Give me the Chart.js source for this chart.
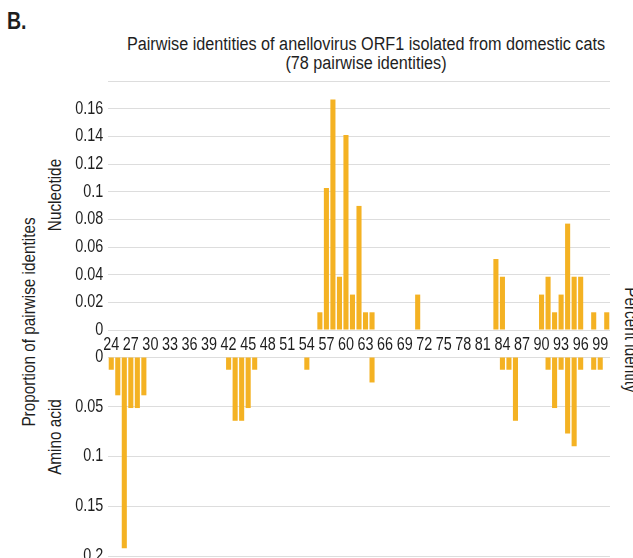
<!DOCTYPE html>
<html>
<head>
<meta charset="utf-8">
<script src="https://cdn.jsdelivr.net/npm/chart.js@4.4.1/dist/chart.umd.min.js"></script>
<style>
  html, body { margin: 0; padding: 0; background: #fff; }
  body { width: 633px; height: 558px; overflow: hidden; position: relative;
         font-family: 'Liberation Sans', Arial, sans-serif; color: #1e1e1e; }
  .txt { position: absolute; white-space: nowrap; font-size: 18px; line-height: 18px; }
  .rot { transform: translate(-50%, -50%) rotate(-90deg) scaleX(0.85); }
  .rotR { transform: translate(-50%, -50%) rotate(90deg) scaleX(0.85); }
  #panelTop { position: absolute; left: 0; top: 0; }
  #panelBottom { position: absolute; left: 0; top: 340px; }
</style>
</head>
<body>
<div class="txt" style="left:7px; top:10px; font-size:23px; line-height:23px; font-weight:bold; transform:scaleX(0.85); transform-origin:left;">B.</div>
<div class="txt" style="left:366px; top:35px; line-height:19px; text-align:center; transform:translateX(-50%) scaleX(0.9);">Pairwise identities of anellovirus ORF1 isolated from domestic cats<br>(78 pairwise identities)</div>
<div class="txt rot" style="left:29px; top:322px;">Proportion of pairwise identites</div>
<div class="txt rot" style="left:55px; top:195px;">Nucleotide</div>
<div class="txt rot" style="left:55px; top:437px;">Amino acid</div>
<div class="txt rotR" style="left:631px; top:340px;">Percent identity</div>

<canvas id="panelTop" width="792" height="360"></canvas>
<canvas id="panelBottom" width="792" height="240"></canvas>

<script>
// percent identity categories (24 .. 100)
const identity = [
  24, 25, 26, 27, 28, 29, 30, 31, 32, 33,
  34, 35, 36, 37, 38, 39, 40, 41, 42, 43,
  44, 45, 46, 47, 48, 49, 50, 51, 52, 53,
  54, 55, 56, 57, 58, 59, 60, 61, 62, 63,
  64, 65, 66, 67, 68, 69, 70, 71, 72, 73,
  74, 75, 76, 77, 78, 79, 80, 81, 82, 83,
  84, 85, 86, 87, 88, 89, 90, 91, 92, 93,
  94, 95, 96, 97, 98, 99, 100
];

// proportion of the 78 pairwise identities, nucleotide
const nucleotide = [
  0, 0, 0, 0, 0, 0, 0, 0, 0, 0,
  0, 0, 0, 0, 0, 0, 0, 0, 0, 0,
  0, 0, 0, 0, 0, 0, 0, 0, 0, 0,
  0, 0, 0.0128, 0.1026, 0.1667, 0.0385, 0.141, 0.0256, 0.0897, 0.0128,
  0.0128, 0, 0, 0, 0, 0, 0, 0.0256, 0, 0,
  0, 0, 0, 0, 0, 0, 0, 0, 0, 0.0513,
  0.0385, 0, 0, 0, 0, 0, 0.0256, 0.0385, 0.0128, 0.0256,
  0.0769, 0.0385, 0.0385, 0, 0.0128, 0, 0.0128
];

// proportion of the 78 pairwise identities, amino acid
const aminoAcid = [
  0.0128, 0.0385, 0.1923, 0.0513, 0.0513, 0.0385, 0, 0, 0, 0,
  0, 0, 0, 0, 0, 0, 0, 0, 0.0128, 0.0641,
  0.0641, 0.0513, 0.0128, 0, 0, 0, 0, 0, 0, 0,
  0.0128, 0, 0, 0, 0, 0, 0, 0, 0, 0,
  0.0256, 0, 0, 0, 0, 0, 0, 0, 0, 0,
  0, 0, 0, 0, 0, 0, 0, 0, 0, 0,
  0.0128, 0.0128, 0.0641, 0, 0, 0, 0, 0.0128, 0.0513, 0.0128,
  0.0769, 0.0897, 0.0128, 0, 0.0128, 0.0128, 0
];

const BAR = '#F4B223';
const GRID = '#D9D9D9';
const SQUEEZE = 0.8; // the original uses a narrow typeface, so draw condensed horizontally

Chart.defaults.font.family = "'Liberation Sans', Arial, sans-serif";
Chart.defaults.font.size = 18;
Chart.defaults.color = '#1e1e1e';
Chart.defaults.animation = false;

const fmt = v => String(+v.toFixed(2));

// squeeze the whole drawing horizontally
const condense = {
  id: 'condense',
  beforeDraw(chart) { chart.ctx.save(); chart.ctx.scale(SQUEEZE, 1); },
  afterDraw(chart) { chart.ctx.restore(); }
};

function barSet(values) {
  return [{ data: values, backgroundColor: BAR, borderWidth: 0, barPercentage: 0.78, categoryPercentage: 1 }];
}

new Chart(document.getElementById('panelTop'), {
  type: 'bar',
  data: { labels: identity, datasets: barSet(nucleotide) },
  plugins: [condense],
  options: {
    responsive: false,
    layout: { padding: { top: 81, right: 29.5, left: 0, bottom: 0 } },
    plugins: { legend: { display: false }, tooltip: { enabled: false } },
    scales: {
      x: {
        grid: { display: false },
        border: { display: false },
        ticks: {
          autoSkip: false, maxRotation: 0, minRotation: 0, padding: -4,
          callback: (v, i) => i % 3 === 0 ? identity[i] : ''
        },
        afterFit: s => { s.height = 30; }
      },
      y: {
        min: 0, max: 0.18,
        grid: { color: GRID, drawTicks: false },
        border: { display: false },
        ticks: { stepSize: 0.02, padding: 6, callback: v => v > 0.17 ? '' : fmt(v) },
        afterFit: s => { s.width = 135; }
      }
    }
  }
});

new Chart(document.getElementById('panelBottom'), {
  type: 'bar',
  data: { labels: identity, datasets: barSet(aminoAcid) },
  plugins: [condense],
  options: {
    responsive: false,
    layout: { padding: { top: 17, right: 29.5, left: 0, bottom: 24 } },
    plugins: { legend: { display: false }, tooltip: { enabled: false } },
    scales: {
      x: { display: false },
      y: {
        min: 0, max: 0.2, reverse: true,
        grid: { color: GRID, drawTicks: false },
        border: { display: false },
        ticks: { stepSize: 0.05, padding: 6, callback: v => fmt(v) },
        afterFit: s => { s.width = 135; }
      }
    }
  }
});
</script>
</body>
</html>
